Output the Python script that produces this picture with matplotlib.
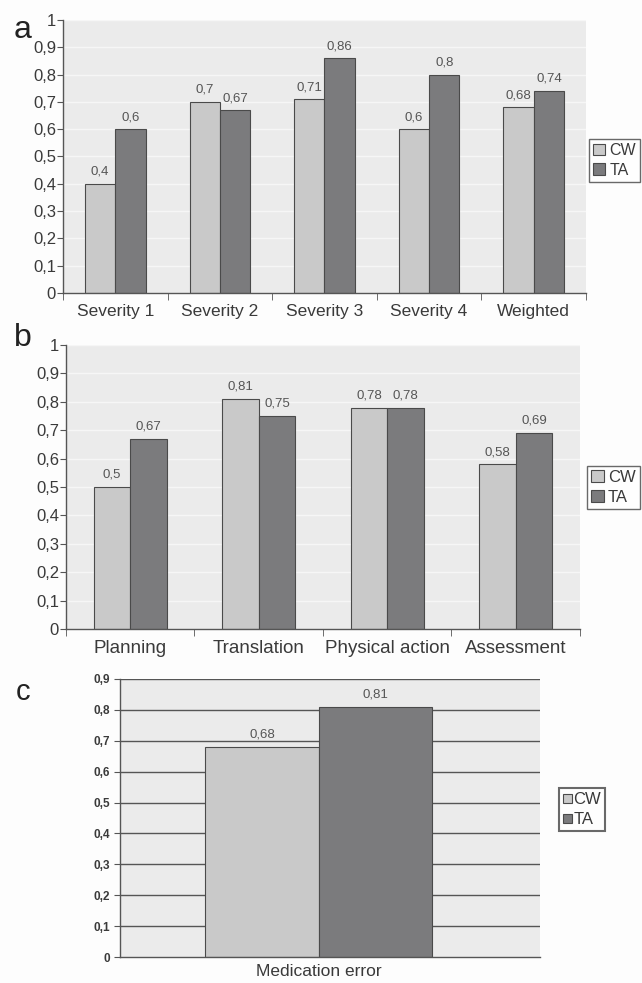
import numpy as np
import matplotlib
matplotlib.use("Agg")
import matplotlib.pyplot as plt
from matplotlib.patches import Patch

plt.rcParams['font.family'] = ['Liberation Sans', 'DejaVu Sans']

# panel a
sev_cats = ["Severity 1", "Severity 2", "Severity 3", "Severity 4", "Weighted"]
sev_cw = [0.40, 0.70, 0.71, 0.60, 0.68]
sev_ta = [0.60, 0.67, 0.86, 0.80, 0.74]
# panel b
stage_cats = ["Planning", "Translation", "Physical action", "Assessment"]
stage_cw = [0.50, 0.81, 0.78, 0.58]
stage_ta = [0.67, 0.75, 0.78, 0.69]
# panel c
med_cats = ["Medication error"]
med_cw = [0.68]
med_ta = [0.81]

CW_C = "#c9c9c9"
TA_C = "#7b7b7d"
EDGE = "#4a4a4a"
TXT = "#3a3a3a"


def dec(v):
    s = f"{v:.2f}".rstrip("0").rstrip(".")
    return s.replace(".", ",")


def grouped(ax, cats, cw, ta, width, ymax, ystep, grid_col, lab_fs, tick_fs, val_fs):
    x = np.arange(len(cats))
    ax.set_facecolor("#ebebeb")
    for y in np.arange(ystep, ymax + 1e-9, ystep):
        ax.axhline(y, color=grid_col, lw=1.0, zorder=0.5)
    ax.bar(x - width / 2, cw, width, color=CW_C, edgecolor=EDGE, lw=0.8, zorder=2)
    ax.bar(x + width / 2, ta, width, color=TA_C, edgecolor=EDGE, lw=0.8, zorder=2)
    for xi, a, b in zip(x, cw, ta):
        ax.text(xi - width / 2, a + ymax * 0.022, dec(a), ha="center", va="bottom",
                fontsize=val_fs, color="#555555")
        ax.text(xi + width / 2, b + ymax * 0.022, dec(b), ha="center", va="bottom",
                fontsize=val_fs, color="#555555")
    ax.set_xlim(-0.5, len(cats) - 0.5)
    ax.set_ylim(0, ymax)
    yt = np.round(np.arange(0, ymax + 1e-9, ystep), 2)
    ax.set_yticks(yt)
    ax.set_yticklabels([dec(v) for v in yt], fontsize=tick_fs, color=TXT)
    ax.set_xticks(x)
    ax.set_xticklabels(cats, fontsize=lab_fs, color=TXT)
    for sp in ["top", "right"]:
        ax.spines[sp].set_visible(False)
    for sp in ["left", "bottom"]:
        ax.spines[sp].set_color("#555555")
        ax.spines[sp].set_linewidth(1.0)
    return x


fig = plt.figure(figsize=(6.42, 9.83), dpi=100)
fig.patch.set_facecolor("#fdfdfd")

# ---- a
ax1 = fig.add_axes([0.0981, 0.7019, 0.8147, 0.2778])
grouped(ax1, sev_cats, sev_cw, sev_ta, 0.29, 1.0, 0.1, "#f6f6f6", 12.5, 12, 9.5)
ax1.tick_params(axis="x", length=0, pad=8)
ax1.set_xticks(np.arange(-0.5, len(sev_cats)), minor=True)
ax1.tick_params(axis="x", which="minor", length=5, color="#555555")
ax1.tick_params(axis="y", length=4, color="#555555", pad=1)
fig.text(0.022, 0.985, "a", fontsize=23, color="#222222", va="top")

# ---- b
ax2 = fig.add_axes([0.1028, 0.3601, 0.8006, 0.2889])
grouped(ax2, stage_cats, stage_cw, stage_ta, 0.285, 1.0, 0.1, "#f6f6f6", 13.5, 12, 9.5)
ax2.tick_params(axis="x", length=0, pad=8)
ax2.set_xticks(np.arange(-0.5, len(stage_cats)), minor=True)
ax2.tick_params(axis="x", which="minor", length=5, color="#555555")
ax2.tick_params(axis="y", length=4, color="#555555", pad=1)
fig.text(0.022, 0.671, "b", fontsize=23, color="#222222", va="top")

# ---- c
ax3 = fig.add_axes([0.1869, 0.0264, 0.6542, 0.2829])
grouped(ax3, med_cats, med_cw, med_ta, 0.27, 0.9, 0.1, "#555555", 12.5, 8.5, 9.5)
ax3.set_xlim(-0.473, 0.527)
ax3.tick_params(axis="x", length=0, pad=5)
ax3.tick_params(axis="y", length=4, color="#555555", pad=3)
for t in ax3.get_yticklabels():
    t.set_fontweight("bold")
fig.text(0.025, 0.310, "c", fontsize=21, color="#222222", va="top")

handles = [Patch(facecolor=CW_C, edgecolor=EDGE, lw=0.8, label="CW"),
           Patch(facecolor=TA_C, edgecolor=EDGE, lw=0.8, label="TA")]
leg_kw = dict(frameon=True, fancybox=False, edgecolor="#444444", borderpad=0.25,
              labelspacing=0.3, borderaxespad=0)
l1 = fig.legend(handles=handles, loc="upper right", bbox_to_anchor=(640 / 642, 1 - 139 / 983),
                fontsize=11.5, handlelength=0.75, handleheight=0.75, handletextpad=0.25,
                **leg_kw)
l2 = fig.legend(handles=handles, loc="upper right", bbox_to_anchor=(640 / 642, 1 - 466 / 983),
                fontsize=12, handlelength=0.75, handleheight=0.75, handletextpad=0.25,
                **leg_kw)
l3 = fig.legend(handles=handles, loc="upper left", bbox_to_anchor=(559 / 642, 1 - 788 / 983),
                fontsize=12, handlelength=0.5, handleheight=0.45, handletextpad=0.1,
                **leg_kw)
for l in (l1, l2, l3):
    for t in l.get_texts():
        t.set_color(TXT)
l3.get_frame().set_linewidth(1.5)

fig.savefig("out.png", dpi=100, facecolor=fig.get_facecolor())
